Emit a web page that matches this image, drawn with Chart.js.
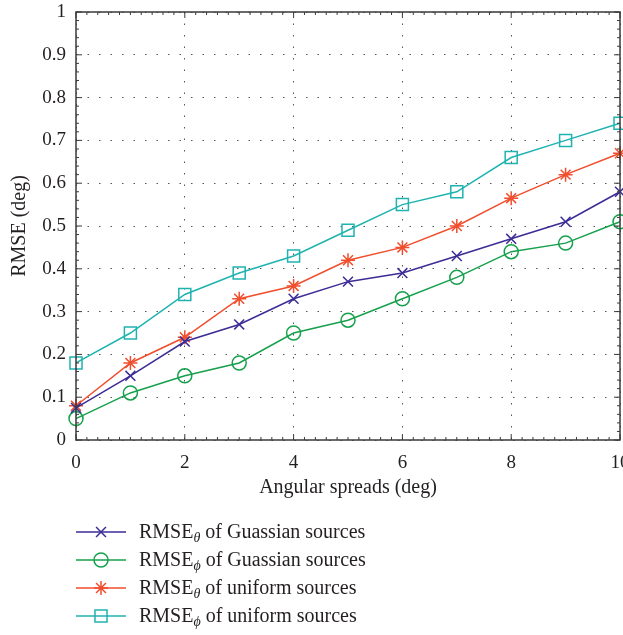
<!DOCTYPE html>
<html>
<head>
<meta charset="utf-8">
<script src="https://cdn.jsdelivr.net/npm/chart.js@4.4.1/dist/chart.umd.min.js"></script>
<style>
  html, body { margin: 0; padding: 0; background: #fff; overflow: hidden; }
  #wrap { width: 623px; height: 635px; position: relative; overflow: hidden; }
</style>
</head>
<body>
<div id="wrap"><canvas id="c" width="630" height="635"></canvas></div>
<script>
const angularSpreads = [0, 1, 2, 3, 4, 5, 6, 7, 8, 9, 10];
const rmseThetaGaussian = [0.075, 0.15, 0.23, 0.27, 0.33, 0.37, 0.39, 0.43, 0.47, 0.51, 0.58];
const rmsePhiGaussian   = [0.05, 0.11, 0.15, 0.18, 0.25, 0.28, 0.33, 0.38, 0.44, 0.46, 0.51];
const rmseThetaUniform  = [0.08, 0.18, 0.24, 0.33, 0.36, 0.42, 0.45, 0.50, 0.565, 0.62, 0.67];
const rmsePhiUniform    = [0.18, 0.25, 0.34, 0.39, 0.43, 0.49, 0.55, 0.58, 0.66, 0.70, 0.74];
const legendMain = ['RMSE', 'RMSE', 'RMSE', 'RMSE'];
const legendSub = ['\u03B8', '\u03D5', '\u03B8', '\u03D5'];
const legendRest = [' of Guassian sources', ' of Guassian sources', ' of uniform sources', ' of uniform sources'];
const xTitle = 'Angular spreads (deg)';
const yTitle = 'RMSE (deg)';

const FONT = "'Liberation Serif', 'Times New Roman', serif";
const TEXT = '#231f20';
const AXIS = '#3a3a3a';
const colors = ['#3b2c96', '#16a04c', '#f04e2c', '#1fb3b0'];
const styles = ['crossRot', 'circle', 'star', 'rect'];
const radii = [7, 7, 7, 8.5];
const series = [rmseThetaGaussian, rmsePhiGaussian, rmseThetaUniform, rmsePhiUniform];

function mk(i) {
  return {
    label: legendMain[i] + legendSub[i] + legendRest[i],
    data: angularSpreads.map((x, k) => ({ x: x, y: series[i][k] })),
    borderColor: colors[i],
    backgroundColor: 'rgba(0,0,0,0)',
    pointBorderColor: colors[i],
    pointBackgroundColor: 'rgba(0,0,0,0)',
    pointStyle: styles[i],
    pointRadius: radii[i],
    pointHoverRadius: radii[i],
    pointBorderWidth: 1.5,
    borderWidth: 1.5,
    tension: 0,
    fill: false,
    clip: false
  };
}

function drawMarker(ctx, style, x, y, r) {
  ctx.beginPath();
  if (style === 'circle') {
    ctx.arc(x, y, r, 0, Math.PI * 2);
  } else if (style === 'rect') {
    const s = r * Math.SQRT1_2;
    ctx.rect(x - s, y - s, 2 * s, 2 * s);
  } else if (style === 'crossRot') {
    const s = r * Math.SQRT1_2;
    ctx.moveTo(x - s, y - s); ctx.lineTo(x + s, y + s);
    ctx.moveTo(x - s, y + s); ctx.lineTo(x + s, y - s);
  } else if (style === 'star') {
    const s = r * Math.SQRT1_2;
    ctx.moveTo(x - s, y - s); ctx.lineTo(x + s, y + s);
    ctx.moveTo(x - s, y + s); ctx.lineTo(x + s, y - s);
    ctx.moveTo(x, y - r); ctx.lineTo(x, y + r);
    ctx.moveTo(x - r, y); ctx.lineTo(x + r, y);
  }
  ctx.stroke();
}

const framePlugin = {
  id: 'frame',
  afterDatasetsDraw(chart) {
    const ctx = chart.ctx;
    const a = chart.chartArea;
    const xs = chart.scales.x, ys = chart.scales.y;
    ctx.save();
    ctx.strokeStyle = AXIS;
    ctx.lineWidth = 1.5;
    ctx.strokeRect(a.left, a.top, a.right - a.left, a.bottom - a.top);
    ctx.lineWidth = 1;
    for (let v = 0; v <= 10.0001; v += 0.2) {
      const px = xs.getPixelForValue(v);
      const major = Math.abs(v / 2 - Math.round(v / 2)) < 1e-6;
      const len = major ? 6 : 3;
      ctx.beginPath();
      ctx.moveTo(px, a.bottom); ctx.lineTo(px, a.bottom - len);
      ctx.moveTo(px, a.top); ctx.lineTo(px, a.top + len);
      ctx.stroke();
    }
    for (let v = 0; v <= 1.0001; v += 0.02) {
      const py = ys.getPixelForValue(v);
      const major = Math.abs(v * 10 - Math.round(v * 10)) < 1e-6;
      const len = major ? 6 : 3;
      ctx.beginPath();
      ctx.moveTo(a.left, py); ctx.lineTo(a.left + len, py);
      ctx.moveTo(a.right, py); ctx.lineTo(a.right - len, py);
      ctx.stroke();
    }
    ctx.restore();
  },
  afterDraw(chart) {
    const ctx = chart.ctx;
    ctx.save();
    const rowsY = [532, 560, 588, 616];
    for (let i = 0; i < 4; i++) {
      const y = rowsY[i];
      ctx.strokeStyle = colors[i];
      ctx.lineWidth = 1.5;
      ctx.beginPath();
      ctx.moveTo(76, y); ctx.lineTo(126, y);
      ctx.stroke();
      drawMarker(ctx, styles[i], 101, y, radii[i]);
      ctx.fillStyle = TEXT;
      ctx.textBaseline = 'alphabetic';
      ctx.textAlign = 'left';
      let x = 139;
      ctx.font = '20px ' + FONT;
      ctx.fillText(legendMain[i], x, y + 6);
      x += ctx.measureText(legendMain[i]).width;
      ctx.font = 'italic 14px ' + FONT;
      ctx.fillText(legendSub[i], x, y + 10);
      x += ctx.measureText(legendSub[i]).width;
      ctx.font = '20px ' + FONT;
      ctx.fillText(legendRest[i], x, y + 6);
    }
    ctx.restore();
  }
};

new Chart(document.getElementById('c'), {
  type: 'line',
  data: { datasets: [mk(0), mk(1), mk(2), mk(3)] },
  options: {
    responsive: false,
    animation: false,
    events: [],
    layout: { padding: { top: 12, right: 0, bottom: 135, left: 0 } },
    plugins: { legend: { display: false }, tooltip: { enabled: false } },
    scales: {
      x: {
        type: 'linear', min: 0, max: 10,
        afterFit(s) { s.height = 60; s.paddingRight = 0; s.paddingLeft = 0; },
        ticks: { stepSize: 2, color: TEXT, font: { family: FONT, size: 19 }, padding: 12, maxRotation: 0 },
        grid: { color: '#555', lineWidth: 1, drawTicks: false, tickLength: 0 },
        border: { display: false, dash: [1.5, 10] },
        title: { display: true, text: xTitle, color: TEXT, font: { family: FONT, size: 20 }, padding: { top: 0, bottom: 0 } }
      },
      y: {
        type: 'linear', min: 0, max: 1,
        afterFit(s) { s.width = 76; s.paddingTop = 0; s.paddingBottom = 0; },
        ticks: { stepSize: 0.1, color: TEXT, font: { family: FONT, size: 19 }, padding: 10,
          callback: v => (Math.round(v * 10) / 10).toString() },
        grid: { color: '#555', lineWidth: 1, drawTicks: false, tickLength: 0 },
        border: { display: false, dash: [1.5, 10] },
        title: { display: true, text: yTitle, color: TEXT, font: { family: FONT, size: 20 }, padding: { top: 8, bottom: 0 } }
      }
    }
  },
  plugins: [framePlugin]
});
</script>
</body>
</html>
